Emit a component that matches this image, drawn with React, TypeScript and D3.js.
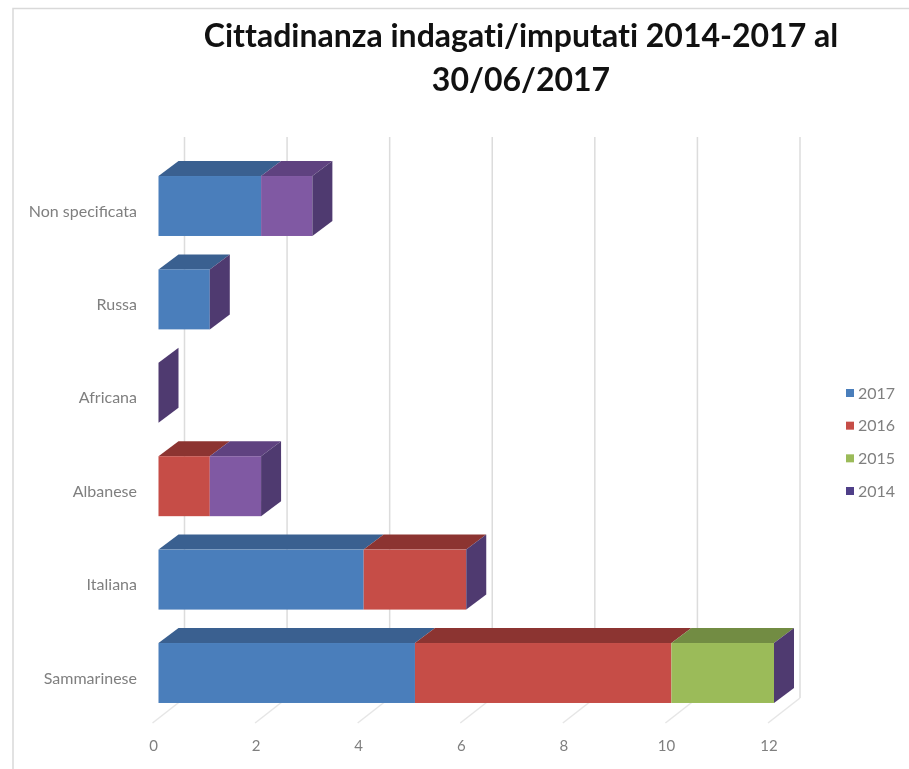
import React, { useEffect, useRef } from "react";
import * as d3 from "d3";

const categories = ["Non specificata", "Russa", "Africana", "Albanese", "Italiana", "Sammarinese"];
const years = ["2017", "2016", "2015", "2014"];
const values2017 = [2, 1, 0, 0, 4, 5];
const values2016 = [0, 0, 0, 1, 2, 5];
const values2015 = [0, 0, 0, 0, 0, 2];
const values2014 = [1, 0, 0, 1, 0, 0];
const xTicks = [0, 2, 4, 6, 8, 10, 12];

const frontColors = ["#4a7ebb", "#c64d47", "#9bbb59", "#8059a3"];
const topColors = ["#3a6090", "#8c3431", "#728c43", "#5f4280"];
const sideColor = "#4f3a70";

// profondità della prospettiva finta 3D
const depth = { x: 20, y: -15 };
const wallX = 26;
const floorX = -6;
const gridTop = 137;
const gridBottom = 698;
const floorFront = 723;

export default function App() {
  const svgRef = useRef<SVGSVGElement | null>(null);

  useEffect(() => {
    const svg = d3.select(svgRef.current);
    svg.selectAll("*").remove();

    const x = d3.scaleLinear().domain([0, 12]).range([158.5, 774]);
    const y = d3
      .scaleBand<string>()
      .domain(categories)
      .range([159.3, 719.7])
      .paddingInner(0.358)
      .paddingOuter(0.179);

    const rows = categories.map((c, i) => ({
      c,
      2017: values2017[i],
      2016: values2016[i],
      2015: values2015[i],
      2014: values2014[i],
    }));
    const stack = d3.stack<any>().keys(years)(rows);

    // sfondo e cornice
    svg.append("rect").attr("x", 13).attr("y", 8.5).attr("width", 920).attr("height", 800)
      .attr("fill", "#fff").attr("stroke", "#d9d9d9").attr("stroke-width", 1.5);

    // griglia: parete di fondo e pavimento
    const grid = svg.append("g").attr("fill", "none").attr("stroke-width", 1.5);
    xTicks.forEach((t) => {
      const px = x(t);
      grid.append("path").attr("stroke", "#dcdcdc")
        .attr("d", `M${px + wallX},${gridTop} L${px + wallX},${gridBottom}`);
      grid.append("path").attr("stroke", "#e6e6e6")
        .attr("d", `M${px + wallX},${gridBottom} L${px + floorX},${floorFront}`);
    });

    const bars = svg.append("g");
    categories.forEach((c, i) => {
      const top = y(c) as number;
      const h = y.bandwidth();
      const total = stack[3][i][1];

      stack.forEach((s, k) => {
        const [a, b] = s[i];
        if (b <= a) return;
        const xa = x(a);
        const xb = x(b);
        bars.append("path")
          .attr("d", `M${xa},${top} L${xa + depth.x},${top + depth.y} L${xb + depth.x},${top + depth.y} L${xb},${top} Z`)
          .attr("fill", topColors[k]);
        bars.append("rect")
          .attr("x", xa).attr("y", top).attr("width", xb - xa).attr("height", h)
          .attr("fill", frontColors[k]);
      });

      // la faccia laterale prende sempre il colore dell'ultima serie
      const xe = x(total);
      bars.append("path")
        .attr("d", `M${xe},${top} L${xe + depth.x},${top + depth.y} L${xe + depth.x},${top + h + depth.y} L${xe},${top + h} Z`)
        .attr("fill", sideColor);
    });

    const font = "Lato, sans-serif";

    svg.append("g").selectAll("text").data(categories).enter().append("text")
      .attr("x", 137).attr("y", (d) => (y(d) as number) + y.bandwidth() / 2 + 10.5)
      .attr("text-anchor", "end").attr("font-family", font).attr("font-size", 16)
      .attr("fill", "#7f7f7f").text((d) => d);

    svg.append("g").selectAll("text").data(xTicks).enter().append("text")
      .attr("x", (d) => x(d) - 5).attr("y", 751)
      .attr("text-anchor", "middle").attr("font-family", font).attr("font-size", 15)
      .attr("fill", "#7f7f7f").text((d) => d);

    const legendY = d3.scalePoint<string>().domain(years).range([393, 491]);
    const legend = svg.append("g");
    years.forEach((yr, k) => {
      const ly = legendY(yr) as number;
      legend.append("rect").attr("x", 846).attr("y", ly - 4).attr("width", 8).attr("height", 8)
        .attr("fill", k === 3 ? "#4f3f88" : frontColors[k]);
      legend.append("text").attr("x", 858).attr("y", ly + 5.5)
        .attr("font-family", font).attr("font-size", 16).attr("fill", "#7f7f7f").text(yr);
    });

    const title = svg.append("g").attr("font-family", font).attr("font-weight", 700)
      .attr("font-size", 32).attr("fill", "#111").attr("text-anchor", "middle")
      .style("font-variant-ligatures", "none");
    title.append("text").attr("x", 521).attr("y", 47).text("Cittadinanza indagati/imputati 2014-2017 al");
    title.append("text").attr("x", 521).attr("y", 91).text("30/06/2017");
  }, []);

  return (
    <svg
      ref={svgRef}
      width={909}
      height={769}
      style={{ position: "absolute", left: 0, top: 0, filter: "blur(0.6px)" }}
    />
  );
}
